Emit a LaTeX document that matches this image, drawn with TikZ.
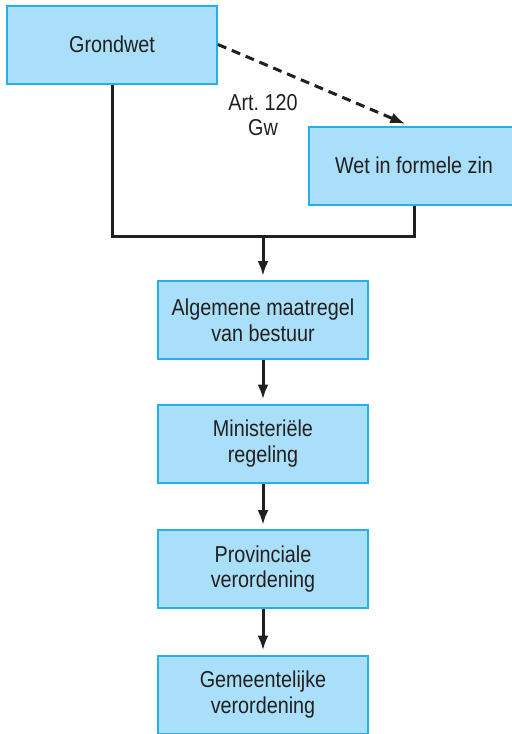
\documentclass[tikz,border=0pt]{standalone}
\usepackage{fontspec}
\setmainfont{Liberation Sans}[FakeStretch=0.86]
\usetikzlibrary{arrows.meta}
\definecolor{boxfill}{HTML}{A9DFF8}
\definecolor{boxline}{HTML}{25B0E8}
\definecolor{lijn}{HTML}{231F20}

\begin{document}
\begin{tikzpicture}[x=0.5pt,y=-0.5pt,
  box/.style={draw=boxline,fill=boxfill,line width=1pt,minimum width=105pt,minimum height=39pt,
    align=center,font=\fontsize{11.5}{12.8}\selectfont,text=lijn,inner sep=0pt},
  lijnstuk/.style={draw=lijn,line width=1.5pt},
  pijl/.style={lijnstuk,shorten >=2pt,-{Latex[length=7.5pt,width=5.5pt]}}]
\useasboundingbox (0,0) rectangle (511,734);
% bovenste laag
\node[box] (grondwet) at (112,44.5) {Grondwet};
\node[box] (wet) at (414,165.5) {Wet in formele zin};
\node[align=center,font=\fontsize{11.5}{12.8}\selectfont,text=lijn] (art) at (263,115) {Art.~120\\Gw};
% de rij regelingen
\node[box] (amvb) at (263,320) {Algemene maatregel\\van bestuur};
\node[box] (mr) at (263,443.5) {Ministeriële\\regeling};
\node[box] (pv) at (263,569) {Provinciale\\verordening};
\node[box] (gv) at (263,694.5) {Gemeentelijke\\verordening};
\coordinate (samen) at (263,236);
% verbindingen
\draw[pijl,dash pattern=on 4.5pt off 3pt] (grondwet.east) -- ([xshift=-2.5pt]wet.north);
\draw[lijnstuk] (grondwet.south) |- (samen) -| (wet.south);
\draw[pijl] (samen) -- (amvb);
\draw[pijl] (amvb) -- (mr);
\draw[pijl] (mr) -- (pv);
\draw[pijl] (pv) -- (gv);
\end{tikzpicture}
\end{document}
